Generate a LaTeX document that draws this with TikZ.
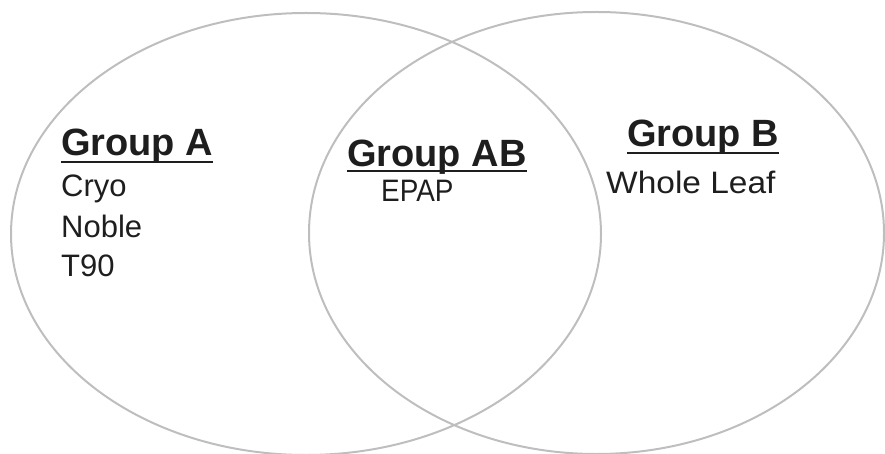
\documentclass[tikz,border=0pt]{standalone}
\usepackage{fontspec}
\setmainfont{Liberation Sans}
\definecolor{vgray}{HTML}{BEBEBE}
\definecolor{txt}{HTML}{1E1E1E}
\begin{document}
\begin{tikzpicture}[x=1pt,y=-1pt,
  venn/.style={draw=vgray, line width=2pt},
  grouptitle/.style={anchor=base west, inner sep=0pt, text=txt, font=\fontsize{38}{38}\selectfont\bfseries},
  item/.style={anchor=base west, inner sep=0pt, text=txt, font=\fontsize{31}{31}\selectfont},
  uline/.style={draw=txt, line width=2.5pt}]
\useasboundingbox (0,0) rectangle (885,454);
\draw[venn] (306,234) ellipse [x radius=295pt, y radius=221pt];
\draw[venn] (596.5,233) ellipse [x radius=287.5pt, y radius=221pt];
% Group A
\node[grouptitle] (ga) at (61,156) {Group A};
\draw[uline] ([yshift=-6pt]ga.base west) -- ([yshift=-6pt]ga.base east);
\node[item] (cryo) at (61,197) {Cryo};
\node[item] (noble) at (61,237) {Noble};
\node[item] (t90) at (61,276) {T90};
% Group AB
\node[grouptitle] (gab) at (347,167) {Group AB};
\draw[uline] ([yshift=-4pt]gab.base west) -- ([yshift=-4pt]gab.base east);
\node[item] (epap) at (381,202) {\scalebox{0.9}[1]{EPAP}};
% Group B
\node[grouptitle] (gb) at (627,147) {Group B};
\draw[uline] ([yshift=-6pt]gb.base west) -- ([yshift=-6pt]gb.base east);
\node[item] (leaf) at (606,194) {\scalebox{1.08}[1]{Whole Leaf}};
\end{tikzpicture}
\end{document}
